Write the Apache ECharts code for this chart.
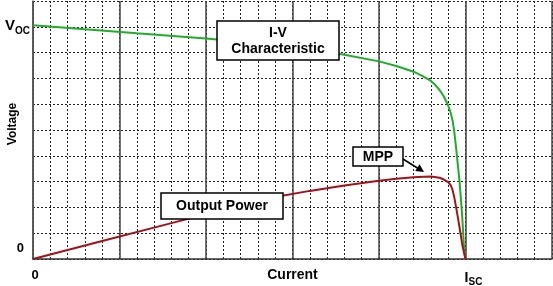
<!DOCTYPE html>
<html>
<head>
<meta charset="utf-8">
<script src="https://cdn.jsdelivr.net/npm/echarts@6/dist/echarts.min.js"></script>
<style>html,body{margin:0;padding:0;background:#fff;}#c{width:553px;height:286px;}</style>
</head>
<body>
<div id="c"></div>
<script>
// I-V characteristic (current in grid units, voltage in grid units)
var ivCurrent = [0, 6, 10, 14, 16, 18, 20, 21, 22, 22.5, 23, 23.25, 23.5, 23.75, 24, 24.15, 24.25, 24.35, 24.45, 24.55, 24.65, 24.8, 24.93, 25];
var ivVoltage = [9.06, 8.75, 8.55, 8.30, 8.14, 7.92, 7.66, 7.48, 7.26, 7.10, 6.90, 6.75, 6.55, 6.30, 5.95, 5.65, 5.38, 4.95, 4.35, 3.70, 3.05, 1.75, 0.25, 0];
// Output power curve
var pCurrent = [0, 4, 8, 12, 14, 16, 18, 20, 21, 22, 22.6, 23, 23.5, 23.75, 24, 24.15, 24.25, 24.35, 24.45, 24.55, 24.65, 24.83, 25];
var pPower   = [0, 0.70, 1.39, 2.08, 2.40, 2.64, 2.85, 3.03, 3.11, 3.17, 3.19, 3.20, 3.15, 3.08, 2.98, 2.85, 2.68, 2.40, 2.03, 1.65, 1.25, 0.49, 0];
// tick labels
var xTickLabels = {0: '{z|0}', 25: '{i|I}{s|SC}'};
var yTickLabels = {0: '{z|0}', 9: '{v|V}{s|OC}'};
var xName = 'Current';
var yName = 'Voltage';
var ivLabel = 'I-V\nCharacteristic';
var powerLabel = 'Output Power';
var mppLabel = 'MPP';

function pairs(xs, ys) { return xs.map(function (x, i) { return [x, ys[i]]; }); }

var FONT = 'Liberation Sans, Arial, sans-serif';
var chart = echarts.init(document.getElementById('c'));
chart.setOption({
  animation: false,
  backgroundColor: '#fff',
  grid: {left: 33, right: 1, top: 1, bottom: 27, containLabel: false, outerBoundsMode: 'none'},
  xAxis: [{
    type: 'value', min: 0, max: 30, interval: 1,
    name: xName, nameLocation: 'middle', nameGap: 9, nameMoveOverlap: false,
    nameTextStyle: {fontFamily: FONT, fontWeight: 'bold', fontSize: 14, color: '#000'},
    axisLine: {show: true, lineStyle: {color: '#333', width: 1.5}},
    axisTick: {show: false},
    axisLabel: {
      show: true, margin: 10, interval: 0, hideOverlap: false,
      formatter: function (v) { return xTickLabels[v] || ''; },
      rich: {
        z: {fontFamily: FONT, fontWeight: 'bold', fontSize: 13, color: '#000', padding: [0, 0, 0, 4]},
        i: {fontFamily: FONT, fontWeight: 'bold', fontSize: 14, color: '#000', padding: [0, 0, 0, 16]},
        s: {fontFamily: FONT, fontWeight: 'bold', fontSize: 10, color: '#000', verticalAlign: 'bottom', padding: [8, 0, 0, 0]}
      }
    },
    splitLine: {show: true, lineStyle: {color: '#222', width: 1, type: [2, 2]}}
  }, {
    type: 'value', min: 0, max: 30, interval: 5,
    axisLine: {show: false}, axisTick: {show: false}, axisLabel: {show: false},
    splitLine: {show: true, lineStyle: {color: '#444', width: 1.5, type: 'solid'}}
  }],
  yAxis: [{
    type: 'value', min: 0, max: 10, interval: 1,
    name: yName, nameLocation: 'middle', nameGap: 14, nameRotate: 90, nameMoveOverlap: false,
    nameTextStyle: {fontFamily: FONT, fontWeight: 'bold', fontSize: 12, color: '#000', padding: [0, 0, 0, 12]},
    axisLine: {show: true, lineStyle: {color: '#555', width: 1.5}},
    axisTick: {show: false},
    axisLabel: {
      show: true, margin: 3, hideOverlap: false,
      formatter: function (v) { return yTickLabels[v] || ''; },
      rich: {
        z: {fontFamily: FONT, fontWeight: 'bold', fontSize: 13, color: '#000', padding: [0, 6, 22, 0]},
        v: {fontFamily: FONT, fontWeight: 'bold', fontSize: 15, color: '#000', padding: [0, 0, 2, 0]},
        s: {fontFamily: FONT, fontWeight: 'bold', fontSize: 10, color: '#000', verticalAlign: 'bottom', padding: [8, 0, 0, 0]}
      }
    },
    splitLine: {show: true, lineStyle: {color: '#222', width: 1, type: [2, 2]}}
  }],
  series: [{
    type: 'line', name: 'I-V', xAxisIndex: 0, yAxisIndex: 0,
    data: pairs(ivCurrent, ivVoltage), showSymbol: false, symbol: 'none',
    smooth: false,
    lineStyle: {color: '#1fae2a', width: 2}, z: 5
  }, {
    type: 'line', name: 'Power', xAxisIndex: 0, yAxisIndex: 0,
    data: pairs(pCurrent, pPower), showSymbol: false, symbol: 'none',
    smooth: false,
    lineStyle: {color: '#a3121b', width: 2}, z: 6
  }],
  graphic: [
    {type: 'rect', z: 100, shape: {x: 217, y: 21, width: 122, height: 39},
     style: {fill: '#fff', stroke: '#000', lineWidth: 1.5}},
    {type: 'text', z: 101, x: 278, y: 41,
     style: {text: ivLabel, fill: '#000', font: 'bold 14px ' + FONT, align: 'center', verticalAlign: 'middle', lineHeight: 16}},
    {type: 'rect', z: 100, shape: {x: 161, y: 193, width: 122, height: 26},
     style: {fill: '#fff', stroke: '#000', lineWidth: 1.5}},
    {type: 'text', z: 101, x: 222, y: 206,
     style: {text: powerLabel, fill: '#000', font: 'bold 14px ' + FONT, align: 'center', verticalAlign: 'middle'}},
    {type: 'rect', z: 100, shape: {x: 353, y: 147, width: 50, height: 19},
     style: {fill: '#fff', stroke: '#000', lineWidth: 1.5}},
    {type: 'text', z: 101, x: 378, y: 157,
     style: {text: mppLabel, fill: '#000', font: 'bold 14px ' + FONT, align: 'center', verticalAlign: 'middle'}},
    {type: 'line', z: 100, shape: {x1: 403, y1: 159, x2: 419, y2: 169},
     style: {stroke: '#000', lineWidth: 1.5}},
    {type: 'polygon', z: 100, shape: {points: [[424, 172], [415.2, 170.9], [419.6, 164.3]]},
     style: {fill: '#000'}}
  ]
});
</script>
</body>
</html>
